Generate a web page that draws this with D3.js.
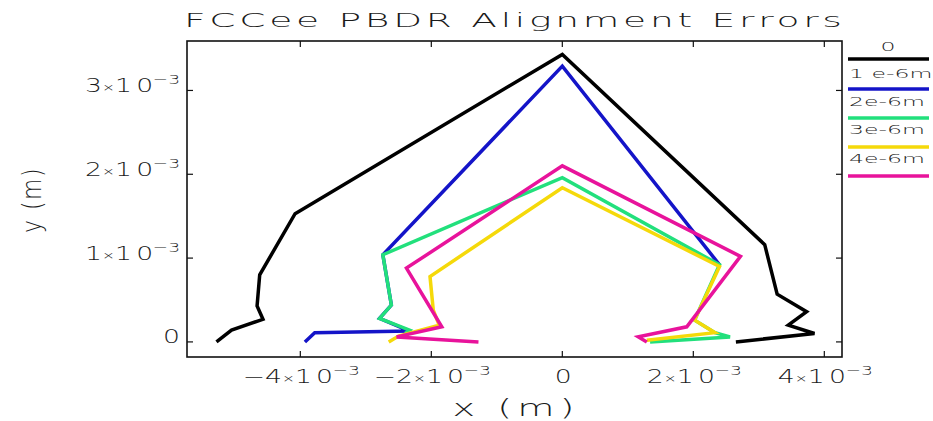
<!DOCTYPE html>
<html>
<head>
<meta charset="utf-8">
<script src="https://cdn.jsdelivr.net/npm/d3@7"></script>
<style>
  body { margin: 0; background: #fff; }
  text { font-family: "DejaVu Sans", sans-serif; font-weight: 200; fill: #1a1a1a; }
</style>
</head>
<body>
<div id="chart"></div>
<script>
// values in units of 1e-3 m
const seriesNames = ["0", "1e-6m", "2e-6m", "3e-6m", "4e-6m"];
const seriesColors = ["#000000", "#1414c8", "#22e07c", "#f5d90a", "#e8139b"];

const x0 = [-5.28, -5.05, -4.57, -4.66, -4.62, -4.08, 0, 3.09, 3.28, 3.73, 3.45, 3.85, 2.65];
const y0 = [0, 0.14, 0.27, 0.43, 0.80, 1.53, 3.43, 1.16, 0.57, 0.36, 0.20, 0.10, 0];

const x1 = [-3.93, -3.78, -2.33, -2.79, -2.61, -2.74, 0, 2.40];
const y1 = [0, 0.11, 0.13, 0.28, 0.44, 1.04, 3.29, 0.92];

const x2 = [-2.40, -2.33, -2.79, -2.61, -2.74, 0, 2.40, 2.02, 2.33, 2.56, 1.34];
const y2 = [0.10, 0.14, 0.28, 0.44, 1.04, 1.96, 0.92, 0.26, 0.11, 0.06, 0];

const x3 = [-2.65, -2.50, -1.88, -1.97, -2.02, 0, 2.40, 2.02, 2.33, 1.29];
const y3 = [0, 0.07, 0.20, 0.38, 0.78, 1.84, 0.90, 0.26, 0.11, 0.02];

const x4 = [-1.28, -2.53, -1.84, -2.38, 0, 2.72, 1.90, 1.16, 1.29];
const y4 = [0, 0.06, 0.18, 0.88, 2.10, 1.02, 0.18, 0.06, 0];

const xTicks = [-4, -2, 0, 2, 4];
const yTicks = [0, 1, 2, 3];

const allX = [x0, x1, x2, x3, x4];
const allY = [y0, y1, y2, y3, y4];

const width = 933, height = 421;
const plotL = 187, plotR = 842, plotT = 41, plotB = 357;

const svg = d3.select("#chart").append("svg")
    .attr("width", width)
    .attr("height", height);

const x = d3.scaleLinear().domain([-5.73, 4.27]).range([plotL, plotR]);
const y = d3.scaleLinear().domain([-0.18, 3.59]).range([plotB, plotT]);

// lines
const line = d3.line().x(d => x(d[0])).y(d => y(d[1]));
seriesNames.forEach((name, i) => {
    const pts = allX[i].map((v, j) => [v, allY[i][j]]);
    svg.append("path")
        .attr("d", line(pts))
        .attr("fill", "none")
        .attr("stroke", seriesColors[i])
        .attr("stroke-width", 3.5)
        .attr("stroke-linejoin", "miter");
});

// frame
svg.append("rect")
    .attr("x", plotL).attr("y", plotT)
    .attr("width", plotR - plotL).attr("height", plotB - plotT)
    .attr("fill", "none").attr("stroke", "#111").attr("stroke-width", 1.6);

// ticks on all four sides, pointing inwards
const tickLen = 6;
xTicks.forEach(t => {
    svg.append("line").attr("x1", x(t)).attr("x2", x(t)).attr("y1", plotB).attr("y2", plotB - tickLen)
        .attr("stroke", "#111").attr("stroke-width", 1.2);
    svg.append("line").attr("x1", x(t)).attr("x2", x(t)).attr("y1", plotT).attr("y2", plotT + tickLen)
        .attr("stroke", "#111").attr("stroke-width", 1.2);
});
yTicks.forEach(t => {
    svg.append("line").attr("x1", plotL).attr("x2", plotL + tickLen).attr("y1", y(t)).attr("y2", y(t))
        .attr("stroke", "#111").attr("stroke-width", 1.2);
    svg.append("line").attr("x1", plotR).attr("x2", plotR - tickLen).attr("y1", y(t)).attr("y2", y(t))
        .attr("stroke", "#111").attr("stroke-width", 1.2);
});

// the plot font is wide, so text is stretched sideways to the measured widths
function placeText(px, py, size, anchor, rot) {
    const g = svg.append("g").attr("transform", `translate(${px},${py})` + (rot ? ` rotate(${rot})` : ""));
    return g.append("text").attr("font-size", size).attr("text-anchor", anchor);
}
function stretchTo(t, w) {
    const s = w / t.node().getBBox().width;
    t.attr("transform", `scale(${s},1)`);
    return s;
}

// tick label with x10^-3 notation
function tickLabel(sel, v) {
    if (v === 0) { sel.text("0"); return; }
    sel.append("tspan").text((v < 0 ? "\u2212" : "") + Math.abs(v));
    sel.append("tspan").attr("font-size", 11).attr("dy", -1).text("\u00d7");
    sel.append("tspan").attr("dy", 1).text("1");
    sel.append("tspan").attr("dx", 3).text("0");
    sel.append("tspan").attr("font-size", 13).attr("dy", -8).text("\u22123");
}

// y labels first: the widest one sets the stretch for all tick labels
let tickScale = 1;
yTicks.slice().reverse().forEach(t => {
    const txt = placeText(180, y(t) + 1.5, 19, "end").call(tickLabel, t);
    if (t === 3) tickScale = stretchTo(txt, 95);
    else txt.attr("transform", `scale(${tickScale},1)`);
});
xTicks.forEach(t => {
    placeText(x(t) + 1, 383, 19, "middle").call(tickLabel, t)
        .attr("transform", `scale(${tickScale},1)`);
});

// title and axis titles
const title = placeText(184, 27, 20, "start").text("FCCee PBDR Alignment Errors")
    .attr("letter-spacing", 2);
stretchTo(title, 662);

const xTitle = placeText(516, 416, 23, "middle").text("x (m)").attr("letter-spacing", 3);
stretchTo(xTitle, 127);

const yTitle = placeText(41, 200, 27, "middle", -90).text("y (m)").attr("letter-spacing", 2);
stretchTo(yTitle, 66);

// legend
const legTextY = [51, 78, 106, 134, 162.5];
const legLineY = [59, 89, 118, 147, 176];
let legScale = 1;
[2, 0, 1, 3, 4].forEach(i => {
    const name = seriesNames[i];
    const txt = placeText(name === "0" ? 888 : 849, legTextY[i], 13, name === "0" ? "middle" : "start")
        .text(name.replace(/^1e/, "1 e"));
    if (i === 2) legScale = stretchTo(txt, 76);
    else txt.attr("transform", `scale(${legScale},1)`);
});
seriesNames.forEach((name, i) => {
    svg.append("line")
        .attr("x1", 848).attr("x2", 929)
        .attr("y1", legLineY[i]).attr("y2", legLineY[i])
        .attr("stroke", seriesColors[i]).attr("stroke-width", 3.5);
});
</script>
</body>
</html>
